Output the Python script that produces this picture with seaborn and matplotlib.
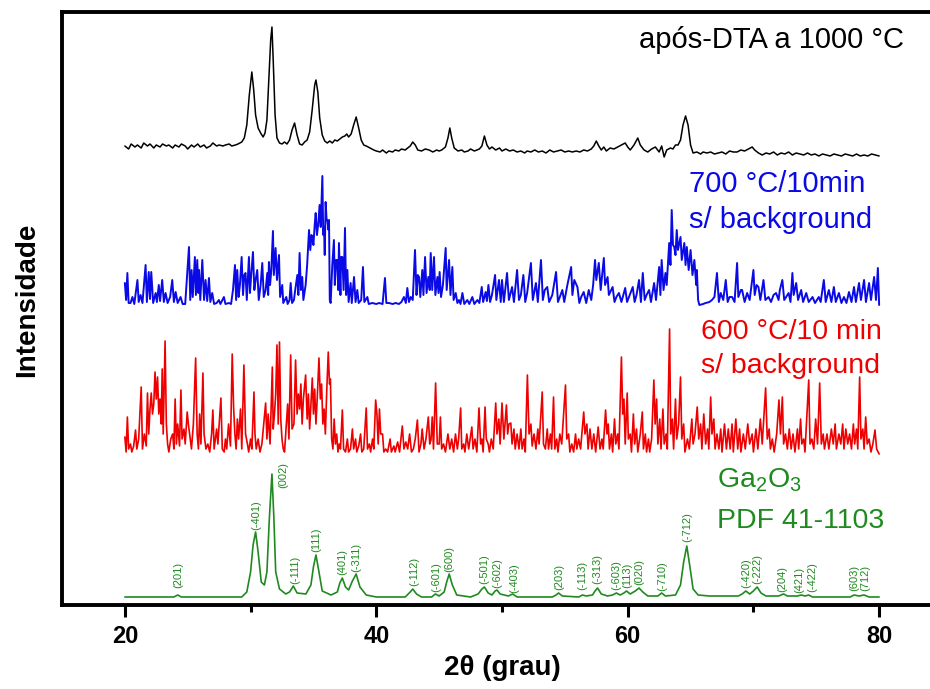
import matplotlib
matplotlib.use("Agg")
import matplotlib.pyplot as plt
from matplotlib import font_manager
from matplotlib.ticker import FixedLocator
import seaborn as sns
import pandas as pd

# ---------------- data (2theta, intensity in arbitrary units) ----------------
black_pts = [(20.0,14),(20.3,11),(20.5,16),(20.8,13),(21.0,15),(21.3,12),(21.5,17),(21.8,14),(22.0,16),(22.3,12),
 (22.5,15),(22.8,13),(23.0,16),(23.3,14),(23.5,15),(23.8,12),(24.0,15),(24.3,13),(24.5,16),(24.8,14),(25.0,11),
 (25.3,15),(25.5,13),(25.8,16),(26.0,13),(26.3,15),(26.5,12),(26.8,14),(27.0,17),(27.3,14),(27.5,15),(27.8,14),
 (28.0,15),(28.3,16),(28.5,14),(28.8,15),(29.0,16),(29.3,18),(29.5,22),(29.7,35),(29.9,65),(30.1,88),(30.25,70),
 (30.4,45),(30.6,32),(30.8,27),(31.0,23),(31.15,27),(31.3,40),(31.45,80),(31.6,120),(31.7,133),(31.8,100),(31.95,45),
 (32.1,22),(32.3,17),(32.5,16),(32.7,18),(32.9,16),(33.1,20),(33.3,30),(33.5,37),(33.7,25),(33.9,16),(34.1,15),
 (34.3,18),(34.5,20),(34.7,28),(34.9,50),(35.1,75),(35.2,80),(35.35,68),(35.5,42),(35.7,25),(35.9,19),(36.1,17),
 (36.3,19),(36.5,17),(36.7,20),(36.9,19),(37.1,21),(37.3,23),(37.5,24),(37.65,26),(37.8,23),(38.0,26),(38.2,35),
 (38.4,43),(38.6,32),(38.8,20),(39.0,15),(39.2,14),(39.5,12),(39.8,10),(40.0,9),(40.3,8),(40.5,10),(40.8,7),
 (41.0,9),(41.3,8),(41.5,10),(41.8,9),(42.0,11),(42.3,10),(42.5,12),(42.7,14),(42.9,18),(43.1,15),(43.3,10),
 (43.6,9),(43.9,11),(44.2,10),(44.5,8),(44.8,10),(45.0,9),(45.2,10),(45.5,13),(45.7,22),(45.85,32),(46.0,22),
 (46.2,12),(46.5,9),(46.8,10),(47.0,8),(47.3,9),(47.5,11),(47.8,9),(48.0,10),(48.2,11),(48.4,14),(48.6,24),
 (48.8,15),(49.0,11),(49.2,13),(49.5,10),(49.8,12),(50.0,9),(50.3,11),(50.6,9),(50.9,10),(51.2,8),(51.5,9),
 (51.8,7),(52.0,9),(52.3,8),(52.6,10),(52.9,8),(53.2,9),(53.5,7),(53.8,10),(54.1,8),(54.4,9),(54.7,10),(55.0,8),
 (55.3,9),(55.6,8),(55.9,9),(56.2,8),(56.5,10),(56.8,9),(57.1,11),(57.3,14),(57.5,19),(57.7,14),(57.9,10),
 (58.1,13),(58.3,9),(58.6,12),(58.9,11),(59.2,13),(59.5,15),(59.8,17),(60.0,13),(60.2,10),(60.5,15),(60.8,22),
 (61.0,15),(61.3,10),(61.6,8),(61.9,11),(62.2,13),(62.5,8),(62.7,14),(62.9,3),(63.1,10),(63.4,12),(63.6,11),
 (63.8,15),(64.0,15),(64.2,20),(64.4,35),(64.6,44),(64.8,35),(65.0,15),(65.2,7),(65.5,8),(65.8,6),(66.0,8),
 (66.3,7),(66.6,8),(66.9,6),(67.2,7),(67.5,8),(67.8,6),(68.1,9),(68.4,8),(68.7,8),(69.0,10),(69.3,9),(69.6,11),
 (69.9,13),(70.1,10),(70.4,7),(70.7,5),(71.0,7),(71.3,6),(71.6,8),(71.9,5),(72.2,7),(72.5,6),(72.8,8),(73.1,5),
 (73.4,7),(73.7,6),(74.0,5),(74.3,7),(74.6,5),(74.9,6),(75.2,4),(75.5,6),(75.8,5),(76.1,4),(76.4,6),(76.7,5),
 (77.0,4),(77.3,6),(77.6,5),(77.9,4),(78.2,6),(78.5,4),(78.8,5),(79.1,4),(79.4,6),(79.7,5),(80.0,4)]

blue_pts = [(20.0,22),(20.1,5),(20.2,32),(20.3,2),(20.45,2),(20.6,8),(20.75,1),(21.0,25),(21.1,3),(21.25,10),
 (21.4,2),(21.65,40),(21.75,3),(21.9,33),(22.0,6),(22.1,33),(22.25,2),(22.45,12),(22.55,3),(22.7,20),(22.8,4),
 (22.97,25),(23.1,3),(23.24,12),(23.4,2),(23.6,8),(23.77,25),(23.9,3),(24.04,13),(24.2,2),(24.43,8),(24.6,1),
 (24.8,1),(25.1,58),(25.2,5),(25.31,35),(25.4,8),(25.57,48),(25.65,10),(25.76,45),(25.85,12),(25.9,35),(26.0,5),
 (26.16,45),(26.3,5),(26.42,25),(26.55,4),(26.69,27),(26.8,3),(26.95,12),(27.1,1),(27.3,2),(27.48,5),(27.6,1),
 (27.88,8),(28.0,1),(28.28,2),(28.45,1),(28.6,15),(28.76,40),(28.85,5),(28.94,35),(29.05,8),(29.15,20),(29.29,48),
 (29.4,10),(29.5,30),(29.6,32),(29.7,5),(29.87,48),(29.95,12),(30.05,30),(30.19,53),(30.3,15),(30.4,25),(30.53,35),
 (30.65,5),(30.8,20),(30.93,42),(31.05,8),(31.2,15),(31.33,32),(31.4,10),(31.46,43),(31.55,20),(31.65,35),
 (31.78,74),(31.85,30),(31.99,57),(32.1,25),(32.26,50),(32.35,8),(32.52,20),(32.6,2),(32.84,8),(32.95,1),(33.1,5),
 (33.19,22),(33.3,2),(33.45,5),(33.55,15),(33.72,30),(33.8,10),(33.9,52),(34.0,15),(34.11,28),(34.2,5),(34.38,20),
 (34.5,40),(34.65,75),(34.75,55),(34.85,70),(34.91,68),(35.0,60),(35.1,80),(35.18,92),(35.28,70),(35.39,82),
 (35.49,100),(35.58,78),(35.71,129),(35.78,70),(35.84,78),(35.9,50),(35.97,103),(36.05,85),(36.1,85),(36.2,75),
 (36.24,85),(36.3,5),(36.37,2),(36.5,40),(36.63,65),(36.7,20),(36.8,45),(36.9,45),(36.97,15),(37.03,62),(37.15,10),
 (37.2,48),(37.3,48),(37.4,15),(37.51,77),(37.6,10),(37.7,35),(37.8,3),(37.96,22),(38.05,2),(38.23,28),(38.35,3),
 (38.49,15),(38.6,2),(38.8,5),(38.94,38),(39.05,3),(39.29,8),(39.4,1),(39.68,2),(40.0,1),(40.22,2),(40.5,1),
 (40.69,27),(40.8,2),(41.01,2),(41.3,1),(41.54,2),(41.8,1),(42.0,3),(42.2,8),(42.35,2),(42.47,17),(42.6,3),
 (42.74,8),(42.9,5),(43.08,55),(43.2,10),(43.3,30),(43.4,28),(43.5,8),(43.66,35),(43.75,10),(43.88,48),(44.0,12),
 (44.14,28),(44.25,15),(44.33,52),(44.45,15),(44.59,48),(44.7,10),(44.86,28),(44.95,12),(45.04,33),(45.15,8),
 (45.3,20),(45.52,57),(45.6,15),(45.79,45),(45.9,10),(46.05,38),(46.15,5),(46.32,12),(46.45,2),(46.58,5),(46.7,1),
 (46.85,12),(47.0,1),(47.24,5),(47.4,1),(47.64,8),(47.8,1),(48.04,5),(48.2,2),(48.39,18),(48.5,3),(48.7,13),
 (48.8,4),(48.92,20),(49.05,3),(49.2,10),(49.45,30),(49.55,5),(49.76,25),(49.9,3),(50.0,25),(50.15,3),(50.4,32),
 (50.55,5),(50.8,18),(50.95,3),(51.2,35),(51.35,5),(51.5,10),(51.7,30),(51.85,3),(52.0,12),(52.3,42),(52.45,5),
 (52.7,22),(52.85,3),(53.1,45),(53.25,5),(53.4,15),(53.6,18),(53.75,3),(54.0,10),(54.3,33),(54.45,3),(54.6,8),
 (54.8,15),(54.95,3),(55.2,20),(55.5,38),(55.6,10),(55.75,25),(56.0,18),(56.15,2),(56.3,8),(56.5,13),(56.7,2),
 (56.9,15),(57.1,5),(57.25,20),(57.4,45),(57.5,25),(57.7,42),(57.85,15),(58.1,47),(58.2,20),(58.4,28),(58.5,10),
 (58.8,18),(58.95,3),(59.1,8),(59.3,12),(59.5,3),(59.8,17),(59.95,3),(60.1,8),(60.4,18),(60.55,3),(60.7,10),
 (60.9,25),(61.05,3),(61.2,32),(61.35,5),(61.5,10),(61.7,15),(61.85,3),(62.1,22),(62.25,5),(62.5,38),(62.6,10),
 (62.7,45),(62.85,15),(63.0,32),(63.1,20),(63.3,62),(63.4,40),(63.5,95),(63.6,60),(63.7,58),(63.8,50),(63.9,75),
 (64.0,55),(64.2,68),(64.3,45),(64.5,62),(64.6,40),(64.7,58),(64.85,35),(65.0,55),(65.15,30),(65.3,45),(65.45,20),
 (65.5,35),(65.6,5),(65.7,0),(66.0,1),(66.2,2),(66.5,3),(66.7,5),(66.9,8),(67.1,32),(67.25,3),(67.4,12),(67.6,5),
 (67.8,25),(67.95,3),(68.1,8),(68.3,8),(68.5,3),(68.7,42),(68.8,8),(69.0,15),(69.1,15),(69.3,3),(69.5,12),
 (69.7,5),(70.0,35),(70.1,10),(70.25,20),(70.4,18),(70.55,5),(70.8,25),(70.95,5),(71.2,8),(71.4,3),(71.6,10),
 (71.8,12),(72.0,5),(72.1,15),(72.3,25),(72.45,5),(72.6,8),(72.8,12),(72.95,3),(73.1,32),(73.2,10),(73.4,22),
 (73.55,5),(73.8,15),(73.95,3),(74.2,12),(74.4,3),(74.7,8),(74.9,2),(75.2,8),(75.35,3),(75.6,25),(75.75,3),
 (76.0,15),(76.2,3),(76.4,18),(76.55,3),(76.8,12),(77.0,2),(77.2,8),(77.4,2),(77.6,13),(77.8,3),(78.0,18),
 (78.15,3),(78.4,22),(78.55,5),(78.8,25),(78.95,3),(79.2,22),(79.35,5),(79.6,28),(79.75,5),(79.9,37),(80.0,0)]

red_pts = [(20.0,17),(20.1,2),(20.2,37),(20.3,5),(20.45,10),(20.55,2),(20.7,8),(20.85,24),(20.95,5),(21.1,15),
 (21.3,67),(21.4,5),(21.55,20),(21.7,8),(21.8,61),(21.9,20),(22.0,45),(22.1,61),(22.2,40),(22.3,50),(22.4,82),
 (22.5,55),(22.6,77),(22.7,40),(22.8,55),(22.9,30),(22.97,85),(23.05,20),(23.2,113),(23.3,30),(23.4,10),(23.5,2),
 (23.65,15),(23.8,20),(23.9,5),(24.0,55),(24.1,10),(24.2,30),(24.35,8),(24.46,64),(24.55,15),(24.7,25),(24.8,10),
 (24.96,42),(25.05,30),(25.15,20),(25.3,5),(25.45,30),(25.63,96),(25.75,20),(25.85,5),(25.95,40),(26.05,10),
 (26.21,81),(26.3,20),(26.45,5),(26.6,10),(26.75,2),(26.9,20),(27.0,44),(27.1,5),(27.3,25),(27.4,10),(27.64,56),
 (27.75,5),(27.9,2),(28.0,15),(28.1,5),(28.25,30),(28.4,8),(28.54,100),(28.65,47),(28.75,20),(28.85,5),(28.95,35),
 (29.05,15),(29.2,45),(29.3,5),(29.47,89),(29.6,20),(29.75,10),(29.85,2),(30.0,15),(30.1,5),(30.27,62),(30.35,20),
 (30.45,5),(30.6,15),(30.75,2),(30.9,10),(31.05,30),(31.2,51),(31.3,15),(31.4,40),(31.55,10),(31.73,87),(31.8,25),
 (31.9,40),(32.0,60),(32.1,109),(32.2,30),(32.3,112),(32.4,35),(32.5,15),(32.6,5),(32.7,2),(32.85,30),(32.95,50),
 (33.05,15),(33.19,99),(33.3,25),(33.45,30),(33.58,94),(33.7,40),(33.8,60),(33.9,45),(34.0,70),(34.1,30),(34.2,55),
 (34.38,79),(34.5,35),(34.6,60),(34.7,25),(34.8,50),(34.91,76),(35.0,40),(35.1,65),(35.2,30),(35.3,55),(35.44,96),
 (35.55,55),(35.65,70),(35.75,30),(35.85,45),(35.95,20),(36.05,60),(36.18,102),(36.28,70),(36.35,75),(36.45,15),
 (36.55,5),(36.65,35),(36.75,10),(36.85,20),(36.95,2),(37.05,10),(37.15,5),(37.3,44),(37.4,5),(37.55,2),(37.7,15),
 (37.8,2),(37.95,5),(38.1,25),(38.2,5),(38.35,15),(38.45,2),(38.6,8),(38.75,20),(38.85,2),(39.0,5),(39.2,46),
 (39.3,5),(39.45,10),(39.55,2),(39.7,15),(39.8,5),(39.95,54),(40.05,40),(40.15,10),(40.25,45),(40.35,20),(40.5,20),
 (40.6,2),(40.75,5),(40.9,2),(41.1,15),(41.2,2),(41.4,8),(41.5,2),(41.7,12),(41.85,2),(42.07,28),(42.2,5),
 (42.35,12),(42.5,5),(42.65,20),(42.8,2),(42.95,5),(43.1,15),(43.27,34),(43.4,2),(43.55,10),(43.65,25),(43.8,5),
 (43.95,15),(44.14,37),(44.25,10),(44.35,14),(44.45,37),(44.55,5),(44.72,71),(44.85,10),(45.0,10),(45.1,37),
 (45.2,5),(45.35,10),(45.5,2),(45.7,20),(45.85,5),(46.0,15),(46.15,2),(46.3,20),(46.45,5),(46.55,15),(46.71,46),
 (46.8,5),(46.95,10),(47.05,2),(47.2,20),(47.35,5),(47.6,27),(47.7,5),(47.85,15),(48.0,2),(48.17,46),(48.3,10),
 (48.4,15),(48.5,2),(48.65,47),(48.75,15),(48.9,10),(49.0,2),(49.15,15),(49.3,5),(49.5,51),(49.6,20),(49.75,35),
 (49.85,10),(50.0,51),(50.15,15),(50.35,49),(50.45,20),(50.55,30),(50.7,31),(50.8,10),(50.95,25),(51.05,5),
 (51.2,20),(51.35,5),(51.5,25),(51.6,5),(51.75,15),(51.85,2),(52.02,79),(52.15,20),(52.3,30),(52.4,8),(52.55,20),
 (52.7,5),(52.85,25),(52.95,10),(53.2,62),(53.3,10),(53.45,5),(53.6,25),(53.7,5),(53.85,20),(53.95,5),(54.1,57),
 (54.2,5),(54.35,15),(54.45,2),(54.6,20),(54.75,10),(55.05,69),(55.15,15),(55.3,20),(55.4,2),(55.55,10),(55.7,2),
 (55.85,20),(55.95,5),(56.1,15),(56.25,5),(56.5,42),(56.6,20),(56.75,30),(56.85,5),(57.0,25),(57.15,5),(57.3,20),
 (57.45,2),(57.65,27),(57.8,5),(57.95,15),(58.05,5),(58.24,44),(58.35,20),(58.45,30),(58.55,5),(58.7,20),(58.8,2),
 (58.95,35),(59.05,10),(59.2,20),(59.3,5),(59.5,97),(59.6,40),(59.7,55),(59.8,10),(59.96,61),(60.05,15),(60.2,20),
 (60.3,2),(60.45,40),(60.55,10),(60.7,25),(60.8,2),(61.0,20),(61.16,42),(61.25,5),(61.4,20),(61.5,2),(61.65,15),
 (61.75,2),(61.9,15),(62.08,74),(62.18,30),(62.3,55),(62.4,10),(62.55,35),(62.65,5),(62.8,45),(62.9,10),(63.05,20),
 (63.15,5),(63.33,125),(63.42,20),(63.55,35),(63.65,5),(63.8,55),(63.9,15),(64.05,30),(64.2,77),(64.3,15),
 (64.45,30),(64.55,2),(64.75,15),(64.9,5),(65.1,35),(65.2,10),(65.35,20),(65.53,47),(65.65,15),(65.8,30),(65.9,5),
 (66.05,40),(66.2,10),(66.35,25),(66.45,5),(66.6,57),(66.7,20),(66.85,35),(66.95,5),(67.1,20),(67.25,5),(67.4,25),
 (67.5,2),(67.7,30),(67.85,5),(68.0,25),(68.15,5),(68.3,30),(68.4,2),(68.6,35),(68.75,5),(68.9,25),(69.0,2),
 (69.2,20),(69.35,5),(69.55,30),(69.7,10),(69.9,20),(70.0,2),(70.2,25),(70.35,5),(70.55,35),(70.7,10),(70.97,66),
 (71.1,15),(71.25,25),(71.35,5),(71.5,15),(71.65,2),(71.85,20),(72.03,54),(72.15,20),(72.3,57),(72.4,10),
 (72.55,20),(72.7,5),(72.85,25),(73.0,5),(73.15,20),(73.3,2),(73.5,25),(73.6,5),(73.75,35),(73.85,10),(74.0,15),
 (74.1,2),(74.4,74),(74.5,10),(74.65,15),(74.8,5),(74.95,35),(75.1,10),(75.27,71),(75.4,10),(75.55,20),(75.65,5),
 (75.85,20),(76.0,5),(76.2,25),(76.35,10),(76.5,30),(76.6,5),(76.8,20),(76.95,10),(77.1,30),(77.2,5),(77.35,25),
 (77.5,10),(77.65,20),(77.8,5),(77.95,30),(78.05,10),(78.2,25),(78.3,5),(78.45,77),(78.55,15),(78.7,25),(78.8,5),
 (78.93,37),(79.05,10),(79.2,15),(79.35,2),(79.5,10),(79.67,24),(79.8,5),(80.0,0)]

green_pts = [(20.0,0),(23.9,0),(24.2,2),(24.5,0),(29.3,0),(29.7,5),(30.0,25),(30.2,52),(30.4,65),(30.6,45),
 (30.85,15),(31.1,12),(31.3,25),(31.5,80),(31.7,123),(31.85,80),(32.0,25),(32.3,8),(32.8,3),(33.1,5),(33.4,11),
 (33.7,4),(34.4,3),(34.8,12),(35.0,30),(35.2,42),(35.4,28),(35.7,6),(36.4,2),(36.9,5),(37.1,14),(37.3,19),
 (37.55,10),(37.8,7),(38.1,16),(38.4,23),(38.7,10),(39.2,2),(40.0,0),(42.3,0),(42.7,5),(42.9,8),(43.2,3),(43.6,0),
 (44.4,0),(44.7,3),(45.0,1),(45.4,5),(45.6,15),(45.8,23),(46.05,12),(46.4,2),(47.5,0),(48.1,3),(48.4,8),(48.6,10),
 (48.9,4),(49.2,2),(49.45,6),(49.6,7),(49.85,3),(50.5,1),(50.85,3),(51.2,0),(54.0,0),(54.3,2),(54.5,4),(54.8,1),
 (56.1,0),(56.4,2),(56.7,1),(57.2,2),(57.4,6),(57.6,9),(57.9,3),(58.4,1),(58.8,2),(59.1,4),(59.4,2),(59.7,4),
 (59.9,6),(60.2,3),(60.6,6),(60.9,9),(61.2,5),(61.6,1),(62.4,1),(62.7,4),(63.0,1),(63.8,2),(64.2,12),(64.45,35),
 (64.7,51),(64.95,30),(65.2,8),(65.6,2),(66.5,1),(68.8,1),(69.1,3),(69.4,6),(69.7,3),(70.0,6),(70.3,10),(70.6,4),
 (71.0,1),(72.0,1),(72.4,3),(72.7,1),(73.5,1),(73.8,2),(74.1,1),(74.4,2),(74.7,0),(77.7,0),(78.0,2),(78.4,1),
 (78.8,2),(79.2,0),(80.0,0)]

# Ga2O3 PDF 41-1103 reflections: label, 2theta of label, label base height
hkl_labels = ["(201)", "(-401)", "(002)", "(-111)", "(111)", "(401)", "(-311)", "(-112)", "(-601)", "(600)",
              "(-501)", "(-602)", "(-403)", "(203)", "(-113)", "(-313)", "(-603)", "(113)", "(020)", "(-710)",
              "(-712)", "(-420)", "(-222)", "(204)", "(421)", "(-422)", "(603)", "(712)"]
hkl_tt = [24.22, 30.42, 32.57, 33.52, 35.19, 37.26, 38.38, 42.99, 44.74, 45.78, 48.56, 49.59, 50.95, 54.53,
          56.36, 57.55, 59.06, 59.94, 60.89, 62.72, 64.71, 69.40, 70.28, 72.27, 73.65, 74.65, 78.00, 78.90]
hkl_y = [17, 75, 117, 21, 53, 30, 33, 19, 13, 33, 21, 17, 12, 15, 15, 21, 15, 17, 20, 14, 63, 17, 21, 13, 12,
         13, 14, 14]

x_ticks = [20, 40, 60, 80]
x_minor = [30, 50, 70]

# ---------------- style ----------------
sns.set_style("ticks")
names = {f.name for f in font_manager.fontManager.ttflist}
narrow = "Liberation Sans Narrow" if "Liberation Sans Narrow" in names else "Liberation Sans"
plt.rcParams["font.family"] = ["Liberation Sans", "DejaVu Sans"]
plt.rcParams["mathtext.fontset"] = "custom"
plt.rcParams["mathtext.rm"] = "Liberation Sans"

BLACK, BLUE, RED, GREEN = "#000000", "#0a0ae6", "#ee0000", "#1f8a1f"
offsets = {"black": 445, "blue": 300, "red": 151, "green": 8}

fig = plt.figure(figsize=(9.3, 6.89), dpi=100)
ax = fig.add_axes([62 / 930, 84 / 689, 880 / 930, 593 / 689])


def frame(pts, off):
    tt, inten = zip(*pts)
    return pd.DataFrame({"tt": tt, "I": [v + off for v in inten]})


for pts, key, col, lw in [(green_pts, "green", GREEN, 1.2), (red_pts, "red", RED, 1.2),
                          (blue_pts, "blue", BLUE, 1.4), (black_pts, "black", BLACK, 1.1)]:
    sns.lineplot(data=frame(pts, offsets[key]), x="tt", y="I", ax=ax, color=col, lw=lw,
                 estimator=None, sort=False, legend=False)

for lab, t, h in zip(hkl_labels, hkl_tt, hkl_y):
    ax.text(t, h, lab, rotation=90, ha="center", va="bottom", fontsize=8, color=GREEN)

ax.text(81.97, 557, "após-DTA a 1000 °C", ha="right", va="baseline", fontsize=21, color=BLACK)
ax.text(64.87, 413, "700 °C/10min", ha="left", va="baseline", fontsize=21, color=BLUE)
ax.text(64.87, 377, "s/ background", ha="left", va="baseline", fontsize=21, color=BLUE)
ax.text(65.82, 266, "600 °C/10 min", ha="left", va="baseline", fontsize=20.5, color=RED)
ax.text(65.82, 232, "s/ background", ha="left", va="baseline", fontsize=20.5, color=RED)
ax.text(67.1, 118, r"Ga$_\mathregular{2}$O$_\mathregular{3}$", ha="left", va="baseline", fontsize=20.5, color=GREEN)
ax.text(67.1, 77, "PDF 41-1103", ha="left", va="baseline", fontsize=20.5, color=GREEN)

ax.set_xlim(15, 85)
ax.set_ylim(0, 593)
ax.set_yticks([])
ax.xaxis.set_major_locator(FixedLocator(x_ticks))
ax.xaxis.set_minor_locator(FixedLocator(x_minor))
ax.tick_params(axis="x", which="major", direction="out", length=8.5, width=2.2, pad=6, labelsize=17,
               color="black", labelcolor="black")
ax.tick_params(axis="x", which="minor", direction="out", length=5, width=2.2, color="black")
for lbl in ax.get_xticklabels():
    lbl.set_fontweight("bold")
    lbl.set_family([narrow, "DejaVu Sans"])
for sp in ax.spines.values():
    sp.set_linewidth(2.8)
    sp.set_color("black")
    sp.set_visible(True)

ax.set_xlabel("2θ (grau)", fontsize=20, fontweight="bold", family=[narrow, "DejaVu Sans"], color="black")
ax.xaxis.label.set(va="center")
ax.xaxis.set_label_coords(0.5, (605 - 668) / 593)
ax.set_ylabel("Intensidade", fontsize=20, fontweight="bold", family=[narrow, "DejaVu Sans"], color="black")
ax.yaxis.label.set(va="center", ha="center")
ax.yaxis.set_label_coords((27 - 62) / 880, (605 - 300) / 593)

fig.savefig("out.png", dpi=100)
